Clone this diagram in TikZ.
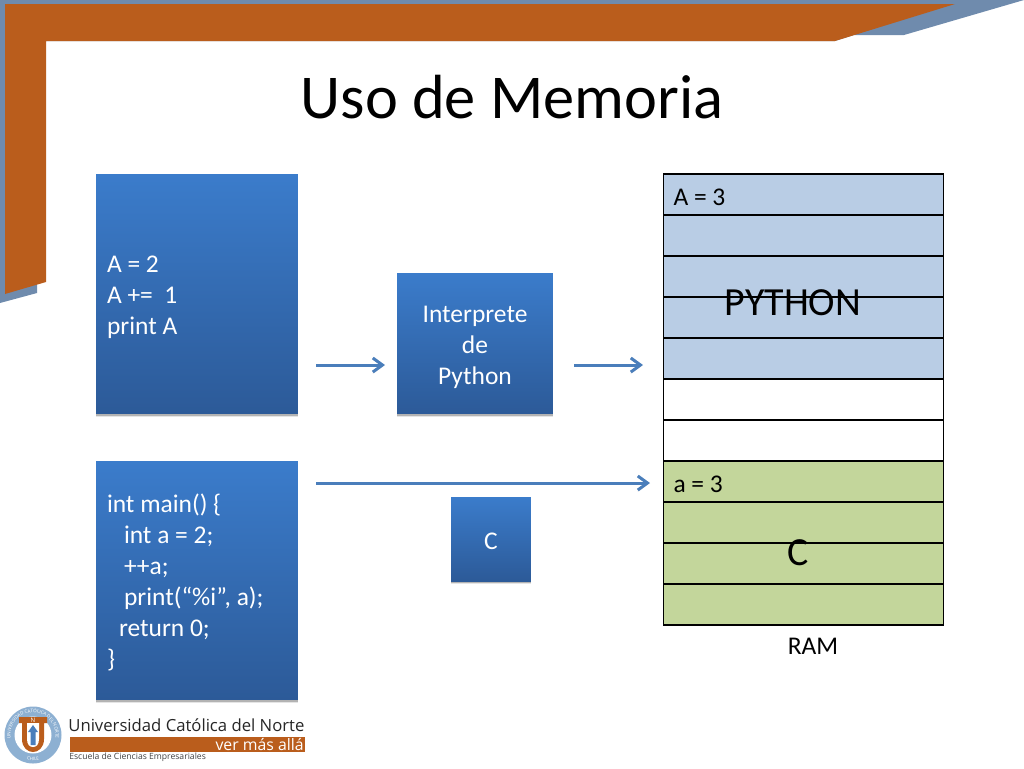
\documentclass[tikz,border=0pt]{standalone}
\usepackage{fontspec}
\setmainfont{Carlito}
\newfontfamily\logofont{Open Sans}
\usetikzlibrary{arrows.meta,shadows,decorations.text}
\definecolor{naranjo}{HTML}{BA5D1C}
\definecolor{azulmarco}{HTML}{6F8BAD}
\definecolor{azulsup}{HTML}{3B7CCB}
\definecolor{azulinf}{HTML}{2C5A98}
\definecolor{azulflecha}{HTML}{4A7EBB}
\definecolor{celdapython}{HTML}{B9CDE5}
\definecolor{celdac}{HTML}{C3D69B}
\definecolor{anillo}{HTML}{8DB0D2}
\newcommand{\cuerpo}{\fontsize{14.5}{17.6}\selectfont}
\newcommand{\sube}[1]{\rule{0pt}{#1}}
\tikzset{
  caja/.style={rectangle, top color=azulsup, bottom color=azulinf, text=white, inner xsep=0pt, inner ysep=0pt,
    drop shadow={shadow xshift=0pt, shadow yshift=-1.8pt, opacity=0.10, fill=black},
    drop shadow={shadow xshift=0pt, shadow yshift=-0.9pt, opacity=0.22, fill=black}, font=\cuerpo},
  codigo/.style={caja, minimum width=4.04cm, text width=3.6cm, align=flush left},
  celda/.style={rectangle, draw=black, line width=0.6pt, minimum width=5.6cm, minimum height=0.82cm, inner xsep=0.2cm, text width=5.2cm, align=flush left, text height=12.5pt, text depth=0pt, font=\cuerpo},
  flecha/.style={draw=azulflecha, line width=1.7pt, -{Straight Barb[length=5.5pt,width=8pt,line width=1.7pt]},
    preaction={draw=black, draw opacity=0.2, transform canvas={yshift=-0.7pt}}},
  etiqueta/.style={font=\cuerpo},
  grande/.style={font=\fontsize{22.7}{26}\selectfont},
}
\begin{document}
\begin{tikzpicture}[x=0.02cm,y=-0.02cm]
  \useasboundingbox (0,0) rectangle (1024,768);
  % marco
  \fill[azulmarco] (0,0) -- (1024,0) -- (904,35) -- (854,35) -- (835,41) -- (37,41) -- (37,293) -- (0,303) -- cycle;
  \fill[naranjo] (5,4) -- (955,4) -- (835,41) -- (46,41) -- (46,282) -- (5,294) -- cycle;
  \node (titulo) at (512,97){\fontsize{35.5}{42}\selectfont Uso de Memoria};

  % cajas
  \node[codigo, minimum height=4.8cm] (codpython) at (197,294){\sube{13pt}A = 2\\A +=\ \ 1\\print A};
  \node[codigo, minimum height=4.78cm] (codc) at (197,580.5){\sube{13pt}int main() \{\\\hspace*{0.34cm}int a = 2;\\\hspace*{0.34cm}++a;\\\hspace*{0.34cm}print(“\%i”, a);\\\hspace*{0.24cm}return 0;\\\}};
  \node[caja, minimum width=3.12cm, minimum height=2.82cm, align=flush center] (interprete) at (475,343.5){\sube{14pt}Interprete\\de\\Python};
  \node[caja, minimum width=1.6cm, minimum height=1.68cm, text height=11.5pt, text depth=0pt] (compc) at (491,539){C};

  % RAM
  \node[celda, fill=celdapython] (r1) at (803.5,194.5){A = 3};
  \node[celda, fill=celdapython] (r2) at (803.5,235.5){};
  \node[celda, fill=celdapython] (r3) at (803.5,276.5){};
  \node[celda, fill=celdapython] (r4) at (803.5,317.5){};
  \node[celda, fill=celdapython] (r5) at (803.5,358.5){};
  \node[celda, fill=white] (r6) at (803.5,399.5){};
  \node[celda, fill=white] (r7) at (803.5,440.5){};
  \node[celda, fill=celdac] (r8) at (803.5,481.5){a = 3};
  \node[celda, fill=celdac] (r9) at (803.5,522.5){};
  \node[celda, fill=celdac] (r10) at (803.5,563.5){};
  \node[celda, fill=celdac] (r11) at (803.5,604.5){};
  \node[grande] (python) at (793,303){PYTHON};
  \node[grande] (letrac) at (798,553){C};
  \node[etiqueta] (ram) at (813,646){RAM};

  % flechas
  \coordinate (f1a) at (316,365);
  \coordinate (f1b) at (385,365);
  \coordinate (f2a) at (574,365);
  \coordinate (f2b) at (643,365);
  \coordinate (f3a) at (316,483);
  \coordinate (f3b) at (650,483);
  \draw[flecha] (f1a) -- (f1b);
  \draw[flecha] (f2a) -- (f2b);
  \draw[flecha] (f3a) -- (f3b);

  % logo
  \fill[anillo] (33,735) circle (28.5);
  \fill[white] (33,735) circle (18.5);
  \path[decorate, decoration={text along path, text align=center, text={|\logofont\fontsize{2.6}{3}\selectfont\color{white}|UNIVERSIDAD CATÓLICA DEL NORTE}}]
    (11.5,741.6) arc[start angle=163, end angle=377, radius=22.5];
  \path[decorate, decoration={text along path, text align=center, text={|\logofont\fontsize{2.6}{3}\selectfont\color{white}|CHILE}}]
    (20.25,757.1) arc[start angle=120, end angle=60, radius=25.5];
  \fill[naranjo] (19,717) -- (47,717) -- (47,723) -- (44,723) -- (44,739) .. controls (44,748) and (38,752) .. (33,752) .. controls (28,752) and (22,748) .. (22,739) -- (22,723) -- (19,723) -- cycle;
  \fill[white] (27,723) -- (39,723) -- (39,739) .. controls (39,745) and (36,747) .. (33,747) .. controls (30,747) and (27,745) .. (27,739) -- cycle;
  \fill[azulflecha] (33,725) -- (38,732) -- (35.5,732) -- (35.5,745) -- (30.5,745) -- (30.5,732) -- (28,732) -- cycle;
  \node[text=white, font=\logofont\fontsize{3.5}{4}\selectfont, inner sep=0pt] (logon) at (33,720){N};
  \node[anchor=west, inner sep=0pt, font=\logofont\fontsize{9.5}{12}\selectfont, text=black!85] (universidad) at (68,725){Universidad Católica del Norte};
  \fill[naranjo] (70,737) rectangle (305,752);
  \node[anchor=east, inner sep=0pt, text=white, font=\logofont\fontsize{9}{10}\selectfont] (vermas) at (304,745){ver más allá};
  \node[anchor=west, inner sep=0pt, font=\logofont\fontsize{4.9}{6}\selectfont, text=black!75] (escuela) at (69,757){Escuela de Ciencias Empresariales};
\end{tikzpicture}
\end{document}
